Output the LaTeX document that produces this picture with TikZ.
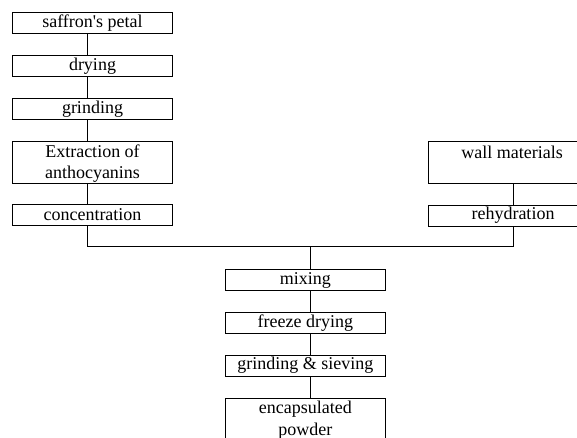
\documentclass[tikz,border=0pt]{standalone}
\usepackage{fontspec}
\setmainfont{Liberation Serif}
\newfontfamily\rawserif{Liberation Serif}
\begin{document}
\begin{tikzpicture}[x=1pt,y=-1pt,
  boxfont/.style={font=\fontsize{18}{21.5}\selectfont},
  stepbox/.style={draw,line width=0.9pt,inner sep=0pt,minimum width=160.4pt,minimum height=21pt,boxfont,align=center},
  tallbox/.style={stepbox,minimum height=41.6pt},
  conn/.style={line width=0.9pt}]
\useasboundingbox (0,0) rectangle (577,437);
\clip (0,0) rectangle (577,437);
\fill[white] (0,0) rectangle (577,437);
\node[stepbox] (petal) at (92.5,22.8) {{\rawserif saffron's petal}};
\node[stepbox] (dry) at (92.5,66.2) {drying};
\node[stepbox] (grind) at (92.5,108.7) {grinding};
\node[tallbox] (extr) at (92.5,162.5) {\strut Extraction of\\anthocyanins};
\node[stepbox] (conc) at (92.5,214.7) {concentration};
\node[tallbox,minimum width=170pt] (wall) at (513,162.2) {};
\node[boxfont,inner sep=0pt] (walltext) at (512,152.5) {wall materials};
\node[stepbox,minimum width=170pt] (rehyd) at (513,215.5) {rehydration};
\node[stepbox,minimum width=159.3pt] (mix) at (305.4,280) {mixing};
\node[stepbox,minimum width=159.3pt] (freeze) at (305.4,322.8) {freeze drying};
\node[stepbox,minimum width=159.3pt] (sieve) at (305.4,365.5) {grinding \& sieving};
\node[tallbox,minimum width=159.3pt] (powder) at (305.4,419.1) {\strut encapsulated\\powder};
\coordinate (lx) at (87.7,0);
\coordinate (rx) at (513.7,0);
\coordinate (cx) at (310,0);
\coordinate (jy) at (0,246.7);
\draw[conn] (petal.south -| lx) -- (dry.north -| lx);
\draw[conn] (dry.south -| lx) -- (grind.north -| lx);
\draw[conn] (grind.south -| lx) -- (extr.north -| lx);
\draw[conn] (extr.south -| lx) -- (conc.north -| lx);
\draw[conn] (wall.south -| rx) -- (rehyd.north -| rx);
\draw[conn] (conc.south -| lx) -- (lx |- jy) -- (rx |- jy) -- (rehyd.south -| rx);
\draw[conn] (cx |- jy) -- (mix.north -| cx);
\draw[conn] (mix.south -| cx) -- (freeze.north -| cx);
\draw[conn] (freeze.south -| cx) -- (sieve.north -| cx);
\draw[conn] (sieve.south -| cx) -- (powder.north -| cx);
\end{tikzpicture}
\end{document}
